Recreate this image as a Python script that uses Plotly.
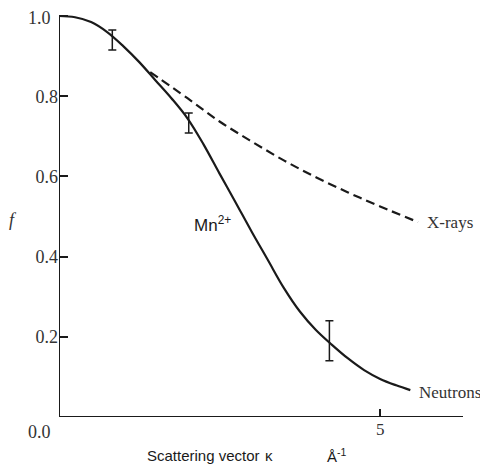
import plotly.graph_objects as go

# Neutron (Mn2+ magnetic form factor) curve
neutron_k = [0, 0.25, 0.5, 0.75, 1.0, 1.25, 1.5, 1.75, 2.0, 2.25, 2.5, 2.75, 3.0,
             3.25, 3.5, 3.75, 4.0, 4.25, 4.5, 4.75, 5.0, 5.25, 5.47]
neutron_f = [1.0, 0.997, 0.985, 0.96, 0.925, 0.885, 0.84, 0.795, 0.745, 0.68, 0.607,
             0.535, 0.462, 0.392, 0.322, 0.263, 0.217, 0.18, 0.146, 0.117, 0.095,
             0.079, 0.067]

# X-ray form factor curve (diverges from neutron curve)
xray_k = [1.42, 2.0, 2.5, 3.0, 3.5, 4.0, 4.5, 5.0, 5.59]
xray_f = [0.86, 0.795, 0.737, 0.687, 0.64, 0.598, 0.56, 0.525, 0.486]

# Measured points with error bars
meas_k = [0.83, 2.02, 4.21]
meas_f = [0.94, 0.733, 0.19]
meas_err = [0.025, 0.025, 0.05]

y_ticks = [0.2, 0.4, 0.6, 0.8, 1.0]
y_ticktext = ["0.2", "0.4", "0.6", "0.8", ""]
x_ticks = [5]
x_ticktext = ["5"]

serif = "Liberation Serif, Times New Roman, serif"
sans = "Liberation Sans, Arial, sans-serif"
ink = "#1a1a1a"
grey = "#333333"

fig = go.Figure()
fig.add_trace(go.Scatter(x=xray_k, y=xray_f, mode="lines",
                         line=dict(color=ink, width=2.2, dash="9px,5px", shape="spline"),
                         showlegend=False))
fig.add_trace(go.Scatter(x=neutron_k, y=neutron_f, mode="lines",
                         line=dict(color=ink, width=2.2, shape="spline"),
                         showlegend=False))
fig.add_trace(go.Scatter(x=meas_k, y=meas_f, mode="markers",
                         marker=dict(size=1, color=ink),
                         error_y=dict(type="data", array=meas_err, visible=True,
                                      color=ink, thickness=1.5, width=4),
                         showlegend=False))

xmax = 6.29
# axis lines
fig.add_shape(type="line", x0=0, x1=0, y0=0, y1=1.0, xref="x", yref="y",
              line=dict(color=ink, width=2))
fig.add_shape(type="line", x0=0, x1=xmax, y0=0, y1=0, xref="x", yref="y",
              line=dict(color=ink, width=2))

# page body has an 8px margin, so the figure is sized/offset to compensate
fig.update_layout(
    template="none",
    width=480, height=456,
    margin=dict(l=51, r=25, t=2, b=47, autoexpand=False),
    plot_bgcolor="white", paper_bgcolor="white",
    xaxis=dict(range=[0, xmax], showgrid=False, zeroline=False, showline=False,
               automargin=False,
               tickvals=x_ticks, ticktext=x_ticktext, ticks="inside", ticklen=8,
               tickwidth=1.5, tickcolor=ink,
               tickfont=dict(family=serif, size=17, color=grey)),
    yaxis=dict(range=[0, 1.015], showgrid=False, zeroline=False, showline=False,
               automargin=False,
               tickvals=y_ticks, ticktext=y_ticktext, ticks="inside", ticklen=9,
               tickwidth=1.5, tickcolor=ink,
               tickfont=dict(family=serif, size=18, color=grey)),
    showlegend=False,
)

data_annos = [
    dict(x=5.70, y=0.486, text="X-rays", xanchor="left", yanchor="middle",
         font=dict(family=serif, size=17, color=grey)),
    dict(x=5.58, y=0.062, text="Neutrons", xanchor="left", yanchor="middle",
         font=dict(family=serif, size=17, color=grey)),
    dict(x=2.07, y=0.482, text="Mn<sup>2+</sup>", xanchor="left", yanchor="middle",
         font=dict(family=sans, size=17, color=ink)),
]
for a in data_annos:
    fig.add_annotation(xref="x", yref="y", showarrow=False, **a)

paper_annos = [
    dict(x=-0.114, y=0.484, text="<i>f</i>", xanchor="center", yanchor="middle",
         font=dict(family=serif, size=18, color=grey)),
    dict(x=-0.015, y=-0.037, text="0.0", xanchor="right", yanchor="middle",
         font=dict(family=serif, size=18, color=grey)),
    dict(x=-0.015, y=0.98, text="1.0", xanchor="right", yanchor="middle",
         font=dict(family=serif, size=18, color=grey)),
    dict(x=0.213, y=-0.094, text="Scattering vector", xanchor="left", yanchor="middle",
         font=dict(family=sans, size=15, color=ink)),
    dict(x=0.52, y=-0.094, text="\u03ba", xanchor="center", yanchor="middle",
         font=dict(family=sans, size=15, color=ink)),
    dict(x=0.658, y=-0.094, text="\u00c5<sup>-1</sup>", xanchor="left", yanchor="middle",
         font=dict(family=sans, size=15, color=ink)),
]
for a in paper_annos:
    fig.add_annotation(xref="paper", yref="paper", showarrow=False, **a)

fig.write_html("out.html")
